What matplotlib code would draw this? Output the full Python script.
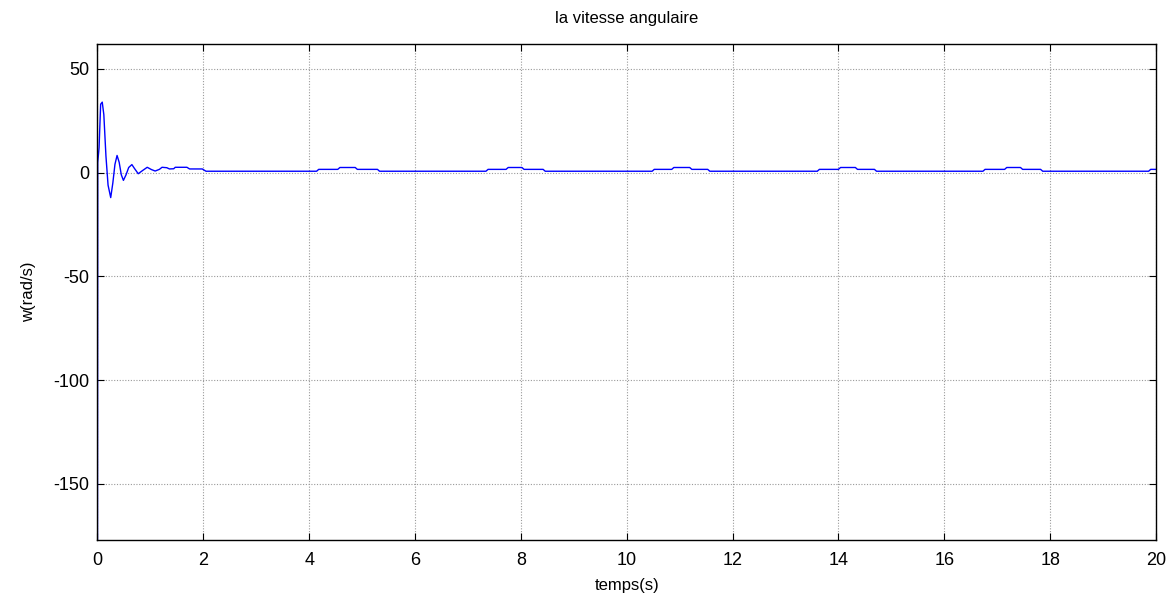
import numpy as np
import matplotlib.pyplot as plt

plt.rcParams["font.family"] = ["Liberation Sans", "DejaVu Sans"]
plt.rcParams["axes.unicode_minus"] = False

# start-up transient of the angular speed (s, rad/s)
t_start = [0.0, 0.0, 0.005, 0.03, 0.06, 0.09, 0.12, 0.16, 0.20, 0.25, 0.29, 0.33,
           0.37, 0.41, 0.45, 0.49, 0.54, 0.59, 0.65, 0.70, 0.77, 0.85, 0.94,
           1.02, 1.09, 1.17, 1.22, 1.31, 1.36, 1.44, 1.47, 1.69, 1.74, 1.98, 2.05]
w_start = [-177, -177, 5, 12, 33, 34, 28, 8, -6, -12, -5, 4,
           8.3, 5, -1, -3.7, -1, 2.5, 3.9, 2, -0.5, 1, 2.6,
           1.5, 0.8, 1.6, 2.6, 2.4, 1.8, 1.9, 2.6, 2.6, 1.8, 1.8, 0.7]

# steady state with periodic load bumps
w_base = 0.7
w_low = 1.6
w_high = 2.5
bump_start = [4.14, 7.34, 10.48, 13.60, 16.73, 19.86]
bump_up = [4.54, 7.72, 10.85, 14.00, 17.14, 20.25]
bump_down = [4.87, 8.02, 11.19, 14.32, 17.44, 20.55]
bump_end = [5.29, 8.42, 11.53, 14.68, 17.82, 20.95]
t_end = 20.0

ramp = 0.04
t = list(t_start)
w = list(w_start)
for s, u, d, e in zip(bump_start, bump_up, bump_down, bump_end):
    t += [s, s + ramp, u, u + ramp, d, d + ramp, e, e + ramp]
    w += [w_base, w_low, w_low, w_high, w_high, w_low, w_low, w_base]
t = np.array(t)
w = np.array(w)
keep = t <= t_end
w_last = np.interp(t_end, t, w)
t = np.append(t[keep], t_end)
w = np.append(w[keep], w_last)

fig = plt.figure(figsize=(11.73, 5.99), dpi=100)
ax = fig.add_axes([0.0831, 0.0985, 0.9024, 0.828])
ax.plot(t, w, color="#0000ff", lw=1.0)

ax.set_xlim(0, 20)
ax.set_ylim(-177, 62)
ax.set_xticks(np.arange(0, 21, 2))
ax.set_yticks([-150, -100, -50, 0, 50])
ax.grid(True, linestyle=(0, (1, 1.5)), color="#9a9a9a", lw=0.8)
ax.tick_params(direction="in", top=True, right=True, length=5, width=0.8,
               labelsize=13)
ax.tick_params(axis="x", pad=9)
ax.tick_params(axis="y", pad=6)
for sp in ax.spines.values():
    sp.set_linewidth(1.0)

ax.set_title("la vitesse angulaire", fontsize=12, pad=15)
ax.set_xlabel("temps(s)", fontsize=12, labelpad=6)
ax.set_ylabel("w(rad/s)", fontsize=12, labelpad=12)

fig.savefig("out.png", dpi=100)
